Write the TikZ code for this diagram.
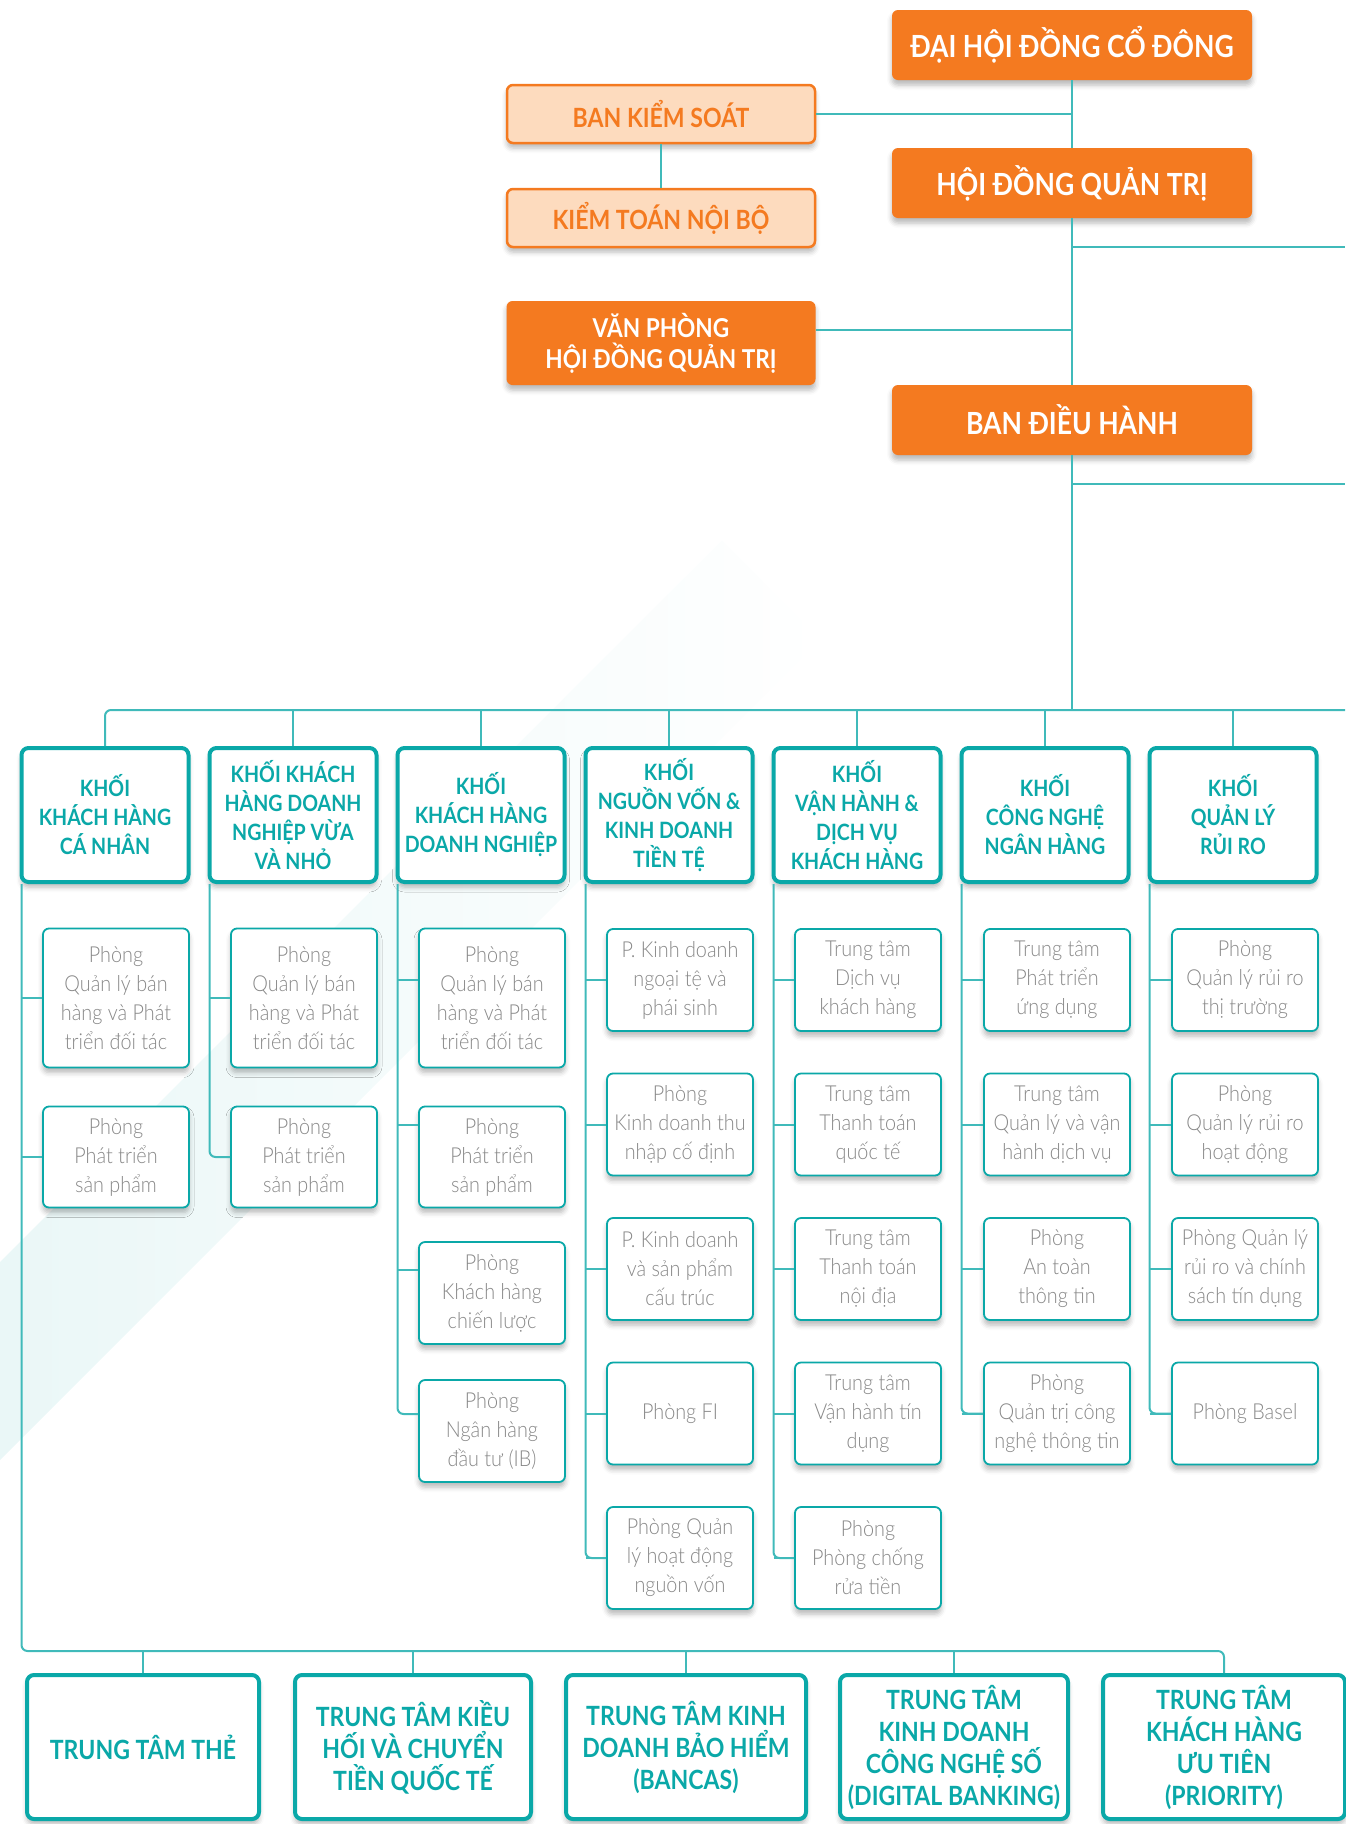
\documentclass[tikz,border=0pt]{standalone}
\usepackage{fontspec}
\setmainfont{Lato}[FakeStretch=0.87]
\IfFontExistsTF{Lato Light}{\newfontfamily\lightfont{Lato Light}[FakeStretch=0.9]}{\newfontfamily\lightfont{Lato}[FakeStretch=0.9]}
\usepackage{tikz}
\usetikzlibrary{shadows.blur}
\definecolor{cam}{RGB}{244,122,32}
\definecolor{camnhat}{RGB}{253,219,190}
\definecolor{xanh}{RGB}{10,168,168}
\definecolor{day}{RGB}{64,186,186}
\definecolor{chuxam}{RGB}{136,136,136}
\definecolor{nen}{RGB}{234,247,247}

\begin{document}
\begin{tikzpicture}[x=1pt,y=-1pt,
		bong/.style={blur shadow={shadow xshift=0pt,shadow yshift=-5pt,shadow blur radius=5pt,shadow opacity=28}},
		hoidong/.style={bong,fill=cam,rounded corners=6pt,minimum width=360pt,minimum height=70pt,text=white,font=\bfseries\fontsize{30.5}{35}\selectfont,align=center,inner sep=0pt},
		kiemsoat/.style={bong,draw=cam,line width=2.5pt,fill=camnhat,rounded corners=6pt,minimum width=308pt,minimum height=58pt,text=cam,font=\bfseries\fontsize{26.5}{31}\selectfont,align=center,inner sep=0pt},
		khoi/.style={bong,draw=xanh,line width=4pt,fill=white,rounded corners=7pt,minimum width=167pt,minimum height=134pt,text=xanh,font=\bfseries\fontsize{22.5}{29}\selectfont,align=center,inner sep=0pt},
		phong/.style={bong,draw=xanh,line width=1.8pt,fill=white,rounded corners=6pt,minimum width=146pt,minimum height=102pt,text=chuxam,font=\lightfont\fontsize{22}{29}\selectfont,align=center,inner sep=0pt},
		trungtam/.style={khoi,minimum height=144pt,font=\bfseries\fontsize{26.5}{32}\selectfont},
		noi/.style={draw=day,line width=2pt,rounded corners=6pt}]
			\useasboundingbox (0,0) rectangle (1345,1824);
			\shade[left color=nen,right color=white] (0,1262) -- (722,540) -- (821,639) -- (0,1460) -- cycle;
			
			% hoi dong
			
			\node[hoidong] (DH) at (1072,45) {ĐẠI HỘI ĐỒNG CỔ ĐÔNG};
			\node[hoidong] (HQ) at (1072,183) {HỘI ĐỒNG QUẢN TRỊ};
			\node[hoidong] (BD) at (1072,420) {BAN ĐIỀU HÀNH};
			\node[kiemsoat] (BK) at (661,114) {BAN KIỂM SOÁT};
			\node[kiemsoat] (KT) at (661,218) {KIỂM TOÁN NỘI BỘ};
			\node[hoidong,minimum width=309pt,minimum height=84pt,font=\bfseries\fontsize{26}{31}\selectfont] (VP) at (661,343) {VĂN PHÒNG\\HỘI ĐỒNG QUẢN TRỊ};
			\coordinate (R1) at (1345,247);
			\coordinate (R2) at (1345,484);
			\coordinate (R3) at (1345,710);
			\draw[noi] (DH) -- (HQ);
			\draw[noi] (HQ) -- (BD);
			\draw[noi] (BK) -- (KT);
			\draw[noi] (BK.east) -- (BK.east -| DH.south);
			\draw[noi] ([yshift=13pt]VP.east) -- ([yshift=13pt]VP.east -| BD.north);
			\draw[noi] (R1 -| HQ.south) -- (R1);
			\draw[noi] (R2 -| BD.south) -- (R2);
			\draw[noi] (BD) -- (BD |- R3);
			
			% khoi
			
			\foreach \i/\txt in {1/{KHỐI\\KHÁCH HÀNG\\CÁ NHÂN},
				2/{KHỐI KHÁCH\\HÀNG DOANH\\NGHIỆP VỪA\\VÀ NHỎ},
				3/{KHỐI\\KHÁCH HÀNG\\DOANH NGHIỆP},
				4/{KHỐI\\NGUỒN VỐN \&\\KINH DOANH\\TIỀN TỆ},
				5/{KHỐI\\VẬN HÀNH \&\\DỊCH VỤ\\KHÁCH HÀNG},
				6/{KHỐI\\CÔNG NGHỆ\\NGÂN HÀNG},
				7/{KHỐI\\QUẢN LÝ\\RỦI RO}} {
				\pgfmathsetmacro{\xx}{105+188*(\i-1)}
				\node[khoi] (K\i) at (\xx,815) {\txt};
				\coordinate (L\i) at ([xshift=2pt]K\i.south west);
			}
			\draw[noi] (R3) -- (R3 -| K1) -- (K1);
			\foreach \i in {2,...,7}
				\draw[noi] (K\i) -- (K\i |- R3);
			
			% phong
			
			\foreach \r/\y/\h/\txt in {1/998/139/{Phòng\\Quản lý bán\\hàng và Phát\\triển đối tác},
				2/1157/101/{Phòng\\Phát triển\\sản phẩm}} {
				\node[phong,minimum height=\h pt] (P1\r) at (116,\y) {\txt};
				\node[phong,minimum height=\h pt] (P2\r) at (304,\y) {\txt};
			}
			\foreach \r/\y/\h/\txt in {1/998/139/{Phòng\\Quản lý bán\\hàng và Phát\\triển đối tác},
				2/1157/101/{Phòng\\Phát triển\\sản phẩm},
				3/1293/102/{Phòng\\Khách hàng\\chiến lược},
				4/1431/102/{Phòng\\Ngân hàng\\đầu tư (IB)}}
				\node[phong,minimum height=\h pt] (P3\r) at (492,\y) {\txt};
			\foreach \r/\txt in {1/{P. Kinh doanh\\ngoại tệ và\\phái sinh},
				2/{Phòng\\Kinh doanh thu\\nhập cố định},
				3/{P. Kinh doanh\\và sản phẩm\\cấu trúc},
				4/{Phòng FI},
				5/{Phòng Quản\\lý hoạt động\\nguồn vốn}} {
				\pgfmathsetmacro{\y}{980+144.5*(\r-1)}
				\node[phong] (P4\r) at (680,\y) {\txt};
			}
			\foreach \r/\txt in {1/{Trung tâm\\Dịch vụ\\khách hàng},
				2/{Trung tâm\\Thanh toán\\quốc tế},
				3/{Trung tâm\\Thanh toán\\nội địa},
				4/{Trung tâm\\Vận hành tín\\dụng},
				5/{Phòng\\Phòng chống\\rửa tiền}} {
				\pgfmathsetmacro{\y}{980+144.5*(\r-1)}
				\node[phong] (P5\r) at (868,\y) {\txt};
			}
			\foreach \r/\txt in {1/{Trung tâm\\Phát triển\\ứng dụng},
				2/{Trung tâm\\Quản lý và vận\\hành dịch vụ},
				3/{Phòng\\An toàn\\thông tin},
				4/{Phòng\\Quản trị công\\nghệ thông tin}} {
				\pgfmathsetmacro{\y}{980+144.5*(\r-1)}
				\node[phong] (P6\r) at (1057,\y) {\txt};
			}
			\foreach \r/\txt in {1/{Phòng\\Quản lý rủi ro\\thị trường},
				2/{Phòng\\Quản lý rủi ro\\hoạt động},
				3/{Phòng Quản lý\\rủi ro và chính\\sách tín dụng},
				4/{Phòng Basel}} {
				\pgfmathsetmacro{\y}{980+144.5*(\r-1)}
				\node[phong] (P7\r) at (1245,\y) {\txt};
			}
			
			% nhanh
			
			\draw[noi] (L1 |- P11.west) -- (P11.west);
			\draw[noi] (L1 |- P12.west) -- (P12.west);
			\draw[noi] (L2 |- P21.west) -- (P21.west);
			\draw[noi] (L2) |- (P22.west);
			\foreach \r/\d in {1/18,2/32,3/23,4/17}
				\coordinate (N3\r) at ([yshift=\d pt]P3\r.west);
			\foreach \r in {1,2,3}
				\draw[noi] (L3 |- N3\r) -- (N3\r);
			\draw[noi] (L3) |- (N34);
			\foreach \i/\n in {4/5,5/5,6/4,7/4} {
				\foreach \r in {1,...,\n}
					\draw[noi] (L\i |- P\i\r.west) -- (P\i\r.west);
				\draw[noi] (L\i) |- (P\i\n.west);
			}
			
			% trung tam
			
			\coordinate (B) at (0,1651);
			\foreach \i/\xx/\w/\txt in {1/143/232/{TRUNG TÂM THẺ},
				2/413/236/{TRUNG TÂM KIỀU\\HỐI VÀ CHUYỂN\\TIỀN QUỐC TẾ},
				3/686/240/{TRUNG TÂM KINH\\DOANH BẢO HIỂM\\(BANCAS)},
				4/954/228/{TRUNG TÂM\\KINH DOANH\\CÔNG NGHỆ SỐ\\(DIGITAL BANKING)},
				5/1224/242/{TRUNG TÂM\\KHÁCH HÀNG\\ƯU TIÊN\\(PRIORITY)}}
				\node[trungtam,minimum width=\w pt] (T\i) at (\xx,1747) {\txt};
			\draw[noi] (L1) -- (L1 |- B) -- (B -| T5) -- (T5);
			\foreach \i in {1,...,4}
				\draw[noi] (T\i |- B) -- (T\i);
		\end{tikzpicture}
\end{document}
